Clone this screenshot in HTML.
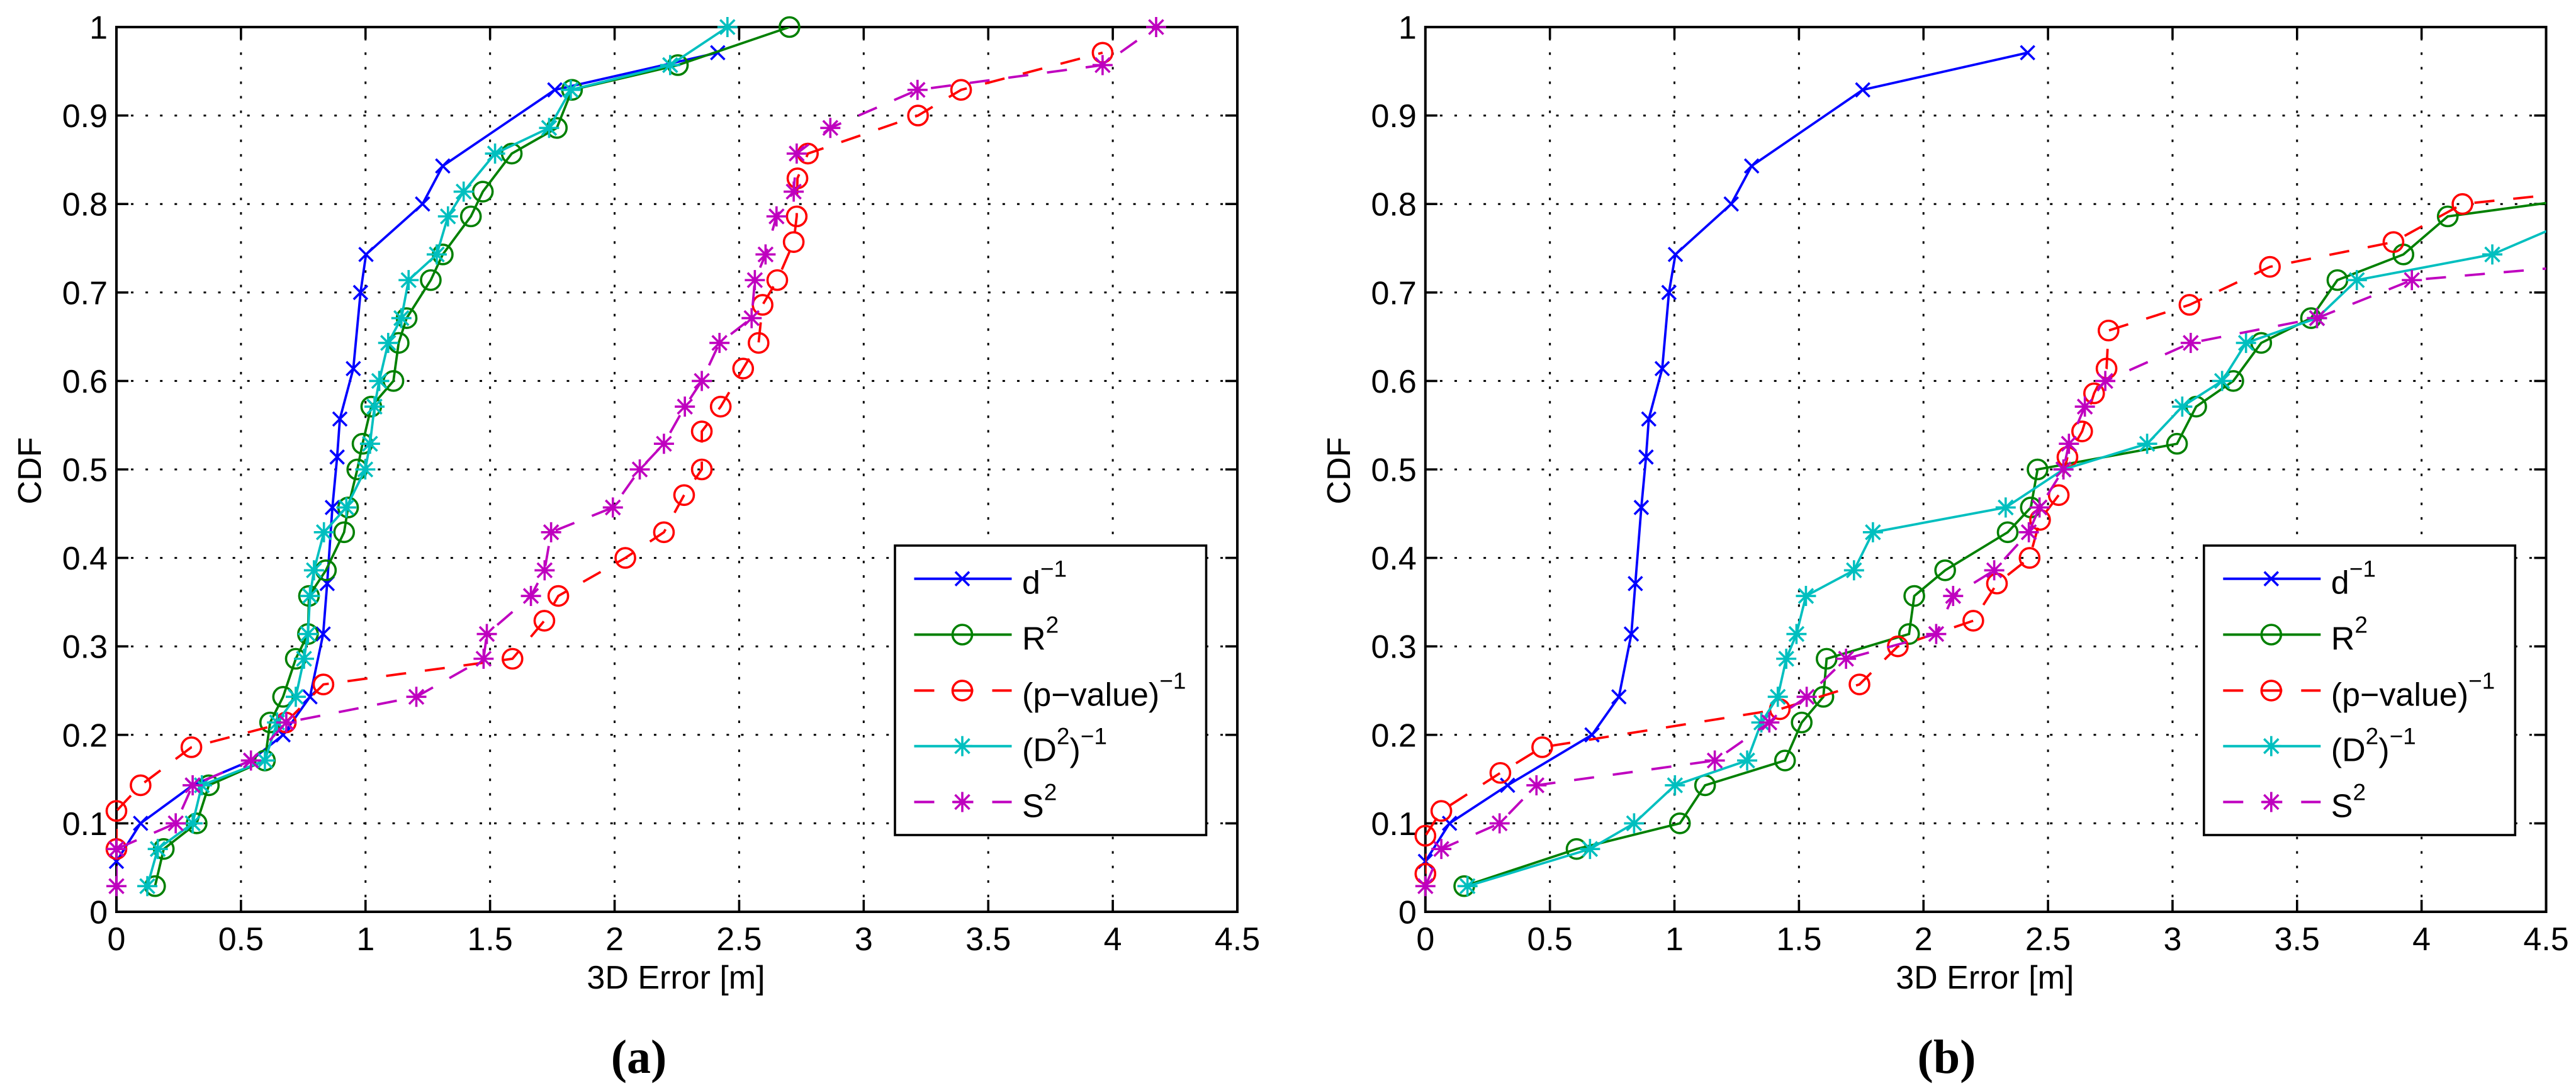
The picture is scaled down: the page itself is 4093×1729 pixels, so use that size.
<!DOCTYPE html>
<html lang="en">
<head>
<meta charset="utf-8">
<title>CDF of 3D Error</title>
<style>
html,body{margin:0;padding:0;background:#fff;}
svg{display:block;}
text{font-family:"Liberation Sans",Arial,sans-serif;fill:#000;}
.cap{font-family:"Liberation Serif","Times New Roman",serif;font-weight:bold;font-size:76px;}
</style>
</head>
<body>
<svg id="chart" xmlns="http://www.w3.org/2000/svg" width="4093" height="1729" viewBox="0 0 4093 1729">
  <rect x="0" y="0" width="4093" height="1729" fill="#ffffff"/>
  <text class="cap" x="1015" y="1705" text-anchor="middle">(a)</text>
  <text class="cap" x="3093" y="1705" text-anchor="middle">(b)</text>
</svg>
<script>
// Axis tick labels
const xTickValues = [0, 0.5, 1, 1.5, 2, 2.5, 3, 3.5, 4, 4.5];
const xTickLabels = ["0", "0.5", "1", "1.5", "2", "2.5", "3", "3.5", "4", "4.5"];
const yTickValues = [0, 0.1, 0.2, 0.3, 0.4, 0.5, 0.6, 0.7, 0.8, 0.9, 1];
const yTickLabels = ["0", "0.1", "0.2", "0.3", "0.4", "0.5", "0.6", "0.7", "0.8", "0.9", "1"];

// Panel (a)
const aDX = [0,0.097,0.306,0.54,0.669,0.777,0.83,0.846,0.867,0.886,0.897,0.951,0.98,1.002,1.229,1.31,1.76,2.414];
const aDY = [0.057,0.1,0.143,0.171,0.2,0.243,0.314,0.371,0.457,0.514,0.557,0.614,0.7,0.743,0.8,0.843,0.929,0.971];
const aRX = [0.155,0.19,0.322,0.371,0.596,0.617,0.669,0.72,0.769,0.773,0.841,0.914,0.93,0.967,0.988,1.023,1.112,1.133,1.165,1.262,1.31,1.423,1.471,1.587,1.768,1.829,2.254,2.702];
const aRY = [0.029,0.071,0.1,0.143,0.171,0.214,0.243,0.286,0.314,0.357,0.386,0.429,0.457,0.5,0.529,0.571,0.6,0.643,0.671,0.714,0.743,0.786,0.814,0.857,0.886,0.929,0.957,1];
const aPX = [0,0,0.097,0.301,0.68,0.831,1.59,1.718,1.774,2.043,2.198,2.279,2.35,2.35,2.426,2.516,2.578,2.594,2.653,2.719,2.731,2.734,2.776,3.218,3.391,3.959];
const aPY = [0.071,0.114,0.143,0.186,0.214,0.257,0.286,0.329,0.357,0.4,0.429,0.471,0.5,0.543,0.571,0.614,0.643,0.686,0.714,0.757,0.786,0.829,0.857,0.9,0.929,0.971];
const aEX = [0.124,0.166,0.306,0.343,0.596,0.645,0.72,0.753,0.769,0.777,0.793,0.833,0.923,0.999,1.018,1.036,1.055,1.091,1.144,1.173,1.286,1.331,1.394,1.52,1.737,1.824,2.223,2.453];
const aEY = [0.029,0.071,0.1,0.143,0.171,0.214,0.243,0.286,0.314,0.357,0.386,0.429,0.457,0.5,0.529,0.571,0.6,0.643,0.671,0.714,0.743,0.786,0.814,0.857,0.886,0.929,0.957,1];
const aSX = [0,0,0.238,0.306,0.54,0.682,1.204,1.474,1.487,1.664,1.719,1.745,1.993,2.101,2.198,2.282,2.35,2.421,2.55,2.563,2.606,2.65,2.719,2.731,2.866,3.216,3.959,4.174];
const aSY = [0.029,0.071,0.1,0.143,0.171,0.214,0.243,0.286,0.314,0.357,0.386,0.429,0.457,0.5,0.529,0.571,0.6,0.643,0.671,0.714,0.743,0.786,0.814,0.857,0.886,0.929,0.957,1];

// Panel (b)
const bDX = [0,0.097,0.33,0.669,0.777,0.827,0.843,0.867,0.886,0.897,0.951,0.978,1.004,1.228,1.31,1.756,2.418];
const bDY = [0.057,0.1,0.143,0.2,0.243,0.314,0.371,0.457,0.514,0.557,0.614,0.7,0.743,0.8,0.843,0.929,0.971];
const bRX = [0.156,0.607,1.022,1.123,1.444,1.511,1.598,1.611,1.942,1.963,2.087,2.338,2.431,2.458,3.018,3.095,3.244,3.356,3.556,3.662,3.927,4.105,4.84];
const bRY = [0.029,0.071,0.1,0.143,0.171,0.214,0.243,0.286,0.314,0.357,0.386,0.429,0.457,0.5,0.529,0.571,0.6,0.643,0.671,0.714,0.743,0.786,0.814];
const bPX = [0,0,0.064,0.301,0.469,1.423,1.743,1.897,2.2,2.295,2.426,2.468,2.543,2.578,2.637,2.685,2.735,2.743,3.068,3.391,3.887,4.164,4.644];
const bPY = [0.043,0.086,0.114,0.157,0.186,0.229,0.257,0.3,0.329,0.371,0.4,0.443,0.471,0.514,0.543,0.586,0.614,0.657,0.686,0.729,0.757,0.8,0.814];
const bEX = [0.169,0.661,0.838,1.002,1.292,1.349,1.415,1.449,1.49,1.528,1.721,1.797,2.33,2.562,2.898,3.039,3.199,3.295,3.58,3.74,4.284,4.64];
const bEY = [0.029,0.071,0.1,0.143,0.171,0.214,0.243,0.286,0.314,0.357,0.386,0.429,0.457,0.5,0.529,0.571,0.6,0.643,0.671,0.714,0.743,0.786];
const bSX = [0,0.064,0.298,0.446,1.162,1.381,1.531,1.689,2.051,2.119,2.284,2.423,2.466,2.562,2.584,2.648,2.73,3.073,3.58,3.961,5.16];
const bSY = [0.029,0.071,0.1,0.143,0.171,0.214,0.243,0.286,0.314,0.357,0.386,0.429,0.457,0.5,0.529,0.571,0.6,0.643,0.671,0.714,0.743];

// Legend labels: [text, isSuperscript]
const labelD = [["d",0],["−1",1]];
const labelR = [["R",0],["2",1]];
const labelP = [["(p−value)",0],["−1",1]];
const labelE = [["(D",0],["2",1],[")",0],["−1",1]];
const labelS = [["S",0],["2",1]];

const X_MAX = 4.5, Y_TOP = 43, Y_BOTTOM = 1449, SVG_NS = "http://www.w3.org/2000/svg";
const svg = document.getElementById("chart");

function mk(tag, attrs, parent) {
  const e = document.createElementNS(SVG_NS, tag);
  for (const k in attrs) e.setAttribute(k, attrs[k]);
  parent.appendChild(e);
  return e;
}

function marker(kind, cx, cy, color, parent) {
  const g = mk("g", {stroke: color, "stroke-width": 3.6, fill: "none"}, parent);
  if (kind === "o") {
    mk("circle", {cx: cx, cy: cy, r: 15.5}, g);
  } else if (kind === "x") {
    const r = 11;
    mk("line", {x1: cx-r, y1: cy-r, x2: cx+r, y2: cy+r}, g);
    mk("line", {x1: cx-r, y1: cy+r, x2: cx+r, y2: cy-r}, g);
  } else {
    const r = 16, d = 11.5;
    mk("line", {x1: cx-r, y1: cy, x2: cx+r, y2: cy}, g);
    mk("line", {x1: cx, y1: cy-r, x2: cx, y2: cy+r}, g);
    mk("line", {x1: cx-d, y1: cy-d, x2: cx+d, y2: cy+d}, g);
    mk("line", {x1: cx-d, y1: cy+d, x2: cx+d, y2: cy-d}, g);
  }
  return g;
}

function drawPanel(prefix, x0, x1, series) {
  const xScale = v => x0 + (x1 - x0) * v / X_MAX;
  const yScale = v => Y_BOTTOM - (Y_BOTTOM - Y_TOP) * v;

  const panel = mk("g", {}, svg);
  
  

  const clip = mk("clipPath", {id: prefix + "-clip"}, panel);
  mk("rect", {x: x0, y: Y_TOP, width: x1 - x0, height: Y_BOTTOM - Y_TOP}, clip);

  // Grid
  const grid = mk("g", {stroke: "#000", "stroke-width": 3, "stroke-dasharray": "4 19.08"}, panel);
  
  
  xTickValues.slice(1, -1).forEach(v => {
    mk("line", {x1: xScale(v), y1: Y_BOTTOM, x2: xScale(v), y2: Y_TOP}, grid);
  });
  yTickValues.slice(1, -1).forEach(v => {
    mk("line", {x1: x0, y1: yScale(v), x2: x1, y2: yScale(v)}, grid);
  });

  // Frame
  const frame = mk("rect", {x: x0, y: Y_TOP, width: x1 - x0, height: Y_BOTTOM - Y_TOP, fill: "none", stroke: "#000", "stroke-width": 4}, panel);
  
  

  // Ticks and labels
  const xAxis = mk("g", {stroke: "none"}, panel);
  
  
  xTickValues.forEach((v, i) => {
    if (i > 0 && i < xTickValues.length - 1) {
      mk("line", {x1: xScale(v), y1: Y_BOTTOM, x2: xScale(v), y2: Y_BOTTOM - 19, stroke: "#000", "stroke-width": 3.6}, xAxis);
      mk("line", {x1: xScale(v), y1: Y_TOP, x2: xScale(v), y2: Y_TOP + 19, stroke: "#000", "stroke-width": 3.6}, xAxis);
    }
    const t = mk("text", {x: xScale(v), y: 1510, "text-anchor": "middle", "font-size": 52}, xAxis);
    t.textContent = xTickLabels[i];
    
    
  });

  const yAxis = mk("g", {stroke: "none"}, panel);
  
  
  yTickValues.forEach((v, i) => {
    if (i > 0 && i < yTickValues.length - 1) {
      mk("line", {x1: x0, y1: yScale(v), x2: x0 + 19, y2: yScale(v), stroke: "#000", "stroke-width": 3.6}, yAxis);
      mk("line", {x1: x1, y1: yScale(v), x2: x1 - 19, y2: yScale(v), stroke: "#000", "stroke-width": 3.6}, yAxis);
    }
    const t = mk("text", {x: x0 - 14, y: yScale(v) + 18.5, "text-anchor": "end", "font-size": 52}, yAxis);
    t.textContent = yTickLabels[i];
    
    
  });

  const xTitle = mk("text", {x: x0 + 889, y: 1571, "text-anchor": "middle", "font-size": 52}, panel);
  xTitle.textContent = "3D Error [m]";
  
  

  const yTitle = mk("text", {transform: "translate(" + (x0 - 120) + ",748) rotate(-90)", "text-anchor": "middle", "font-size": 52}, panel);
  yTitle.textContent = "CDF";
  
  

  // Series
  series.forEach(s => {
    const g = mk("g", {}, panel);
    
    
    const pts = s.x.map((v, i) => xScale(v) + "," + yScale(s.y[i])).join(" ");
    const attrs = {points: pts, fill: "none", stroke: s.color, "stroke-width": 3.8, "stroke-linejoin": "miter", "clip-path": "url(#" + prefix + "-clip)"};
    if (s.dashed) attrs["stroke-dasharray"] = "32 30";
    const line = mk("polyline", attrs, g);
    
    
    s.x.forEach((v, i) => {
      if (v > X_MAX) return;
      const m = marker(s.kind, xScale(v), yScale(s.y[i]), s.color, g);
      
      
    });
  });

  // Legend
  const lx = x0 + 1237;
  const legend = mk("g", {}, panel);
  
  
  mk("rect", {x: lx, y: 867, width: 494.5, height: 460, fill: "#fff", stroke: "#000", "stroke-width": 3.6}, legend);
  const rowY = [919.7, 1008.5, 1097.4, 1185.7, 1274.5];
  series.forEach((s, i) => {
    const row = mk("g", {}, legend);
    
    
    const attrs = {x1: lx + 30.5, y1: rowY[i], x2: lx + 185.5, y2: rowY[i], stroke: s.color, "stroke-width": 4};
    if (s.dashed) attrs["stroke-dasharray"] = "32 30";
    mk("line", attrs, row);
    marker(s.kind, lx + 107, rowY[i], s.color, row);
    const t = mk("text", {x: lx + 202, y: rowY[i] + 24, "font-size": 52}, row);
    let raised = false;
    s.label.forEach(seg => {
      const span = mk("tspan", {}, t);
      span.textContent = seg[0];
      if (seg[1]) {
        span.setAttribute("font-size", "37");
        span.setAttribute("dy", raised ? "0" : "-27");
        raised = true;
      } else if (raised) {
        span.setAttribute("dy", "27");
        raised = false;
      }
    });
  });
}

const blue = "#0000ff", green = "#008000", red = "#ff0000", cyan = "#00bfbf", magenta = "#bf00bf";

drawPanel("panel-a", 185, 1966, [
  {name: "d-inverse", x: aDX, y: aDY, color: blue, kind: "x", dashed: false, label: labelD},
  {name: "r-squared", x: aRX, y: aRY, color: green, kind: "o", dashed: false, label: labelR},
  {name: "p-value-inverse", x: aPX, y: aPY, color: red, kind: "o", dashed: true, label: labelP},
  {name: "d-squared-inverse", x: aEX, y: aEY, color: cyan, kind: "*", dashed: false, label: labelE},
  {name: "s-squared", x: aSX, y: aSY, color: magenta, kind: "*", dashed: true, label: labelS}
]);

drawPanel("panel-b", 2264.8, 4045.5, [
  {name: "d-inverse", x: bDX, y: bDY, color: blue, kind: "x", dashed: false, label: labelD},
  {name: "r-squared", x: bRX, y: bRY, color: green, kind: "o", dashed: false, label: labelR},
  {name: "p-value-inverse", x: bPX, y: bPY, color: red, kind: "o", dashed: true, label: labelP},
  {name: "d-squared-inverse", x: bEX, y: bEY, color: cyan, kind: "*", dashed: false, label: labelE},
  {name: "s-squared", x: bSX, y: bSY, color: magenta, kind: "*", dashed: true, label: labelS}
]);
</script>
</body>
</html>
